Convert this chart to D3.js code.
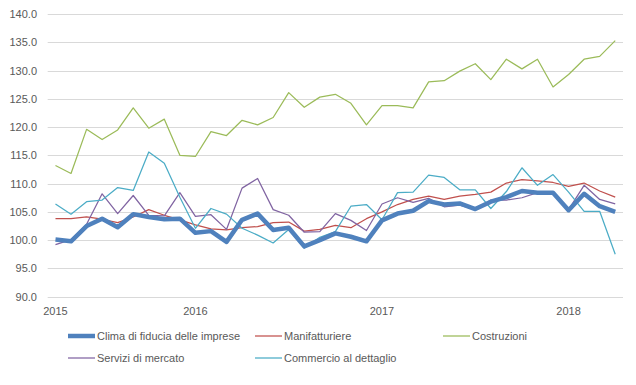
<!DOCTYPE html>
<html>
<head>
<meta charset="utf-8">
<script src="https://cdn.jsdelivr.net/npm/d3@7"></script>
<style>
    body { margin: 0; background: #fff; }
    text { font-family: "Liberation Sans", Arial, sans-serif; fill: #595959; }
</style>
</head>
<body>
<div id="chart"></div>
<script>
// monthly categories, apr 2015 - apr 2018
var months = ["2015-04", "2015-05", "2015-06", "2015-07", "2015-08", "2015-09", "2015-10", "2015-11", "2015-12",
    "2016-01", "2016-02", "2016-03", "2016-04", "2016-05", "2016-06", "2016-07", "2016-08", "2016-09", "2016-10", "2016-11", "2016-12",
    "2017-01", "2017-02", "2017-03", "2017-04", "2017-05", "2017-06", "2017-07", "2017-08", "2017-09", "2017-10", "2017-11", "2017-12",
    "2018-01", "2018-02", "2018-03", "2018-04"];
// which categories carry a year label
var yearTicks = ["2015-04", "2016-01", "2017-01", "2018-01"];
var yearLabels = ["2015", "2016", "2017", "2018"];
var yTicks = [90, 95, 100, 105, 110, 115, 120, 125, 130, 135, 140];

var clima = [100.1, 99.8, 102.5, 103.8, 102.3, 104.6, 104.1, 103.7, 103.8, 101.3, 101.6, 99.7, 103.6, 104.7, 101.8, 102.2, 98.9, 100.0, 101.2, 100.6, 99.8, 103.5, 104.7, 105.2, 106.9, 106.3, 106.5, 105.5, 106.8, 107.6, 108.7, 108.4, 108.4, 105.3, 108.2, 106.0, 105.0];
var manifatturiere = [103.8, 103.8, 104.1, 103.7, 103.1, 104.1, 105.4, 104.4, 103.6, 102.7, 102.0, 101.8, 102.2, 102.4, 103.1, 103.2, 101.6, 101.9, 102.6, 102.2, 103.8, 105.0, 106.3, 107.2, 107.8, 107.2, 107.8, 108.1, 108.5, 110.1, 110.7, 110.5, 110.2, 109.5, 110.1, 108.7, 107.6];
var costruzioni = [113.2, 111.8, 119.6, 117.8, 119.5, 123.4, 119.8, 121.4, 115.0, 114.8, 119.2, 118.5, 121.2, 120.4, 121.7, 126.1, 123.5, 125.3, 125.8, 124.2, 120.4, 123.8, 123.8, 123.4, 128.0, 128.2, 129.9, 131.2, 128.4, 132.0, 130.3, 132.0, 127.1, 129.3, 132.0, 132.5, 135.3];
var servizi = [99.2, 100.1, 102.8, 108.2, 104.7, 107.9, 104.4, 104.3, 108.4, 104.2, 104.5, 101.9, 109.2, 110.9, 105.4, 104.4, 101.4, 101.5, 104.7, 103.5, 101.7, 106.4, 107.5, 106.7, 107.4, 105.9, 106.2, 105.4, 107.1, 107.1, 107.5, 108.4, 108.4, 105.4, 109.7, 107.2, 106.4];
var commercio = [106.4, 104.6, 106.8, 107.1, 109.3, 108.8, 115.6, 113.6, 107.6, 102.1, 105.6, 104.6, 102.1, 100.9, 99.5, 101.9, 98.6, 100.5, 101.5, 106.0, 106.3, 103.6, 108.4, 108.5, 111.5, 111.1, 108.9, 108.9, 105.6, 108.6, 112.8, 109.7, 111.6, 108.5, 105.1, 105.1, 97.5];

var series = [
    { name: "Clima di fiducia delle imprese", values: clima, color: "#4f81bd", width: 4.5 },
    { name: "Manifatturiere", values: manifatturiere, color: "#c0504d", width: 1.25 },
    { name: "Costruzioni", values: costruzioni, color: "#9bbb59", width: 1.25 },
    { name: "Servizi di mercato", values: servizi, color: "#8064a2", width: 1.25 },
    { name: "Commercio al dettaglio", values: commercio, color: "#4bacc6", width: 1.25 }
];

var width = 636,
    height = 385;
var plot = { left: 47.7, right: 623, top: 14, bottom: 296.7 };

var svg = d3.select("#chart")
    .append("svg")
    .attr("width", width)
    .attr("height", height);

// categories sit in the middle of their slot, like excel
var x = d3.scalePoint()
    .domain(months)
    .range([plot.left, plot.right])
    .padding(0.5);

var y = d3.scaleLinear()
    .domain([90, 140])
    .range([plot.bottom, plot.top]);

// gridlines
svg.append("g")
    .selectAll("line")
    .data(yTicks)
    .enter()
    .append("line")
    .attr("x1", plot.left)
    .attr("x2", plot.right)
    .attr("y1", function (d) { return Math.round(y(d)) + 0.5; })
    .attr("y2", function (d) { return Math.round(y(d)) + 0.5; })
    .style("stroke", "#d9d9d9")
    .style("stroke-width", 1);

// y labels
svg.append("g")
    .selectAll("text")
    .data(yTicks)
    .enter()
    .append("text")
    .attr("x", 37)
    .attr("y", function (d) { return y(d) + 4; })
    .attr("text-anchor", "end")
    .style("font-size", "11px")
    .text(function (d) { return d.toFixed(1); });

// x labels
svg.append("g")
    .selectAll("text")
    .data(yearTicks)
    .enter()
    .append("text")
    .attr("x", function (d) { return x(d); })
    .attr("y", 315)
    .attr("text-anchor", "middle")
    .style("font-size", "11px")
    .text(function (d, i) { return yearLabels[i]; });

var line = d3.line()
    .x(function (d, i) { return x(months[i]); })
    .y(function (d) { return y(d); });

// thick series last so it sits on top
var drawOrder = [1, 2, 3, 4, 0];
svg.append("g")
    .selectAll("path")
    .data(drawOrder.map(function (k) { return series[k]; }))
    .enter()
    .append("path")
    .attr("d", function (d) { return line(d.values); })
    .style("fill", "none")
    .style("stroke", function (d) { return d.color; })
    .style("stroke-width", function (d) { return d.width; })
    .style("stroke-linejoin", "round");

// legend, two rows
var legendPos = [
    { x: 68, y: 336 }, { x: 255, y: 336 }, { x: 443, y: 336 },
    { x: 68, y: 358 }, { x: 255, y: 358 }
];
var legend = svg.append("g")
    .selectAll("g")
    .data(series)
    .enter()
    .append("g")
    .attr("transform", function (d, i) { return "translate(" + legendPos[i].x + "," + legendPos[i].y + ")"; });

legend.append("line")
    .attr("x1", 0)
    .attr("x2", 27)
    .style("stroke", function (d) { return d.color; })
    .style("stroke-width", function (d) { return d.width; });

legend.append("text")
    .attr("x", 29)
    .attr("y", 4)
    .style("font-size", "11px")
    .text(function (d) { return d.name; });
</script>
</body>
</html>
